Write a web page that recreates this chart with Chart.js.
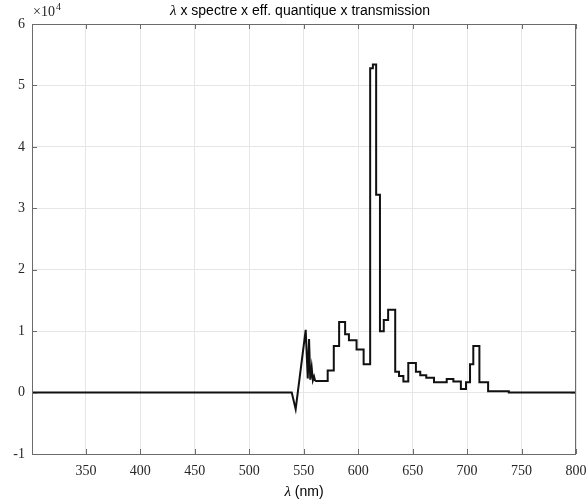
<!DOCTYPE html>
<html>
<head>
<meta charset="utf-8">
<script src="https://cdn.jsdelivr.net/npm/chart.js@4/dist/chart.umd.min.js"></script>
<style>
  html, body { margin: 0; padding: 0; background: #fff; }
  #wrap { width: 586px; height: 504px; }
</style>
</head>
<body>
<div id="wrap"><canvas id="c" width="586" height="504"></canvas></div>
<script>
// ---- data (wavelength in nm, signal in counts) ----
const wlRise  = [300, 400, 539, 542.6, 551.8, 553.7, 554.9, 556.0, 557.3, 558.4, 559.5, 560.5];
const valRise = [0, 0, 0, -2700, 10200, 2300, 8700, 2100, 4100, 2000, 2600, 1900];

const wlStep  = [560.5, 572, 577.6, 582.5, 588, 591.5, 598.5, 605, 611, 613.5, 616.5, 620, 623.5, 627.5, 634, 637.5, 641.5, 646, 653, 657, 662.5, 669.6, 681.3, 687.4, 694.3, 699, 702.7, 705.7, 711.3, 719.3, 738.3, 800];
const valStep = [1900, 3600, 7600, 11500, 9500, 8500, 7000, 4600, 52800, 53400, 32200, 10000, 11800, 13500, 3400, 2700, 1800, 4800, 3400, 2800, 2400, 1700, 2200, 1800, 600, 1700, 4600, 7600, 1700, 200, 0, 0];

const xTickValues = [350, 400, 450, 500, 550, 600, 650, 700, 750, 800];
const yTickValues = [-10000, 0, 10000, 20000, 30000, 40000, 50000, 60000];
const titleMain = ' x spectre x eff. quantique x transmission';
const xTitleRest = ' (nm)';

const toPts = (xs, ys) => xs.map((x, i) => ({x: x, y: ys[i]}));

const frameColor = '#6b6b6b';
const gridColor = '#e6e6e6';
const textColor = '#262626';

const decorPlugin = {
  id: 'decor',
  afterDraw(chart) {
    const {ctx, chartArea: a, scales} = chart;
    const xs = scales.x, ys = scales.y;
    ctx.save();
    // frame
    ctx.strokeStyle = frameColor;
    ctx.lineWidth = 1;
    ctx.strokeRect(Math.round(a.left) + 0.5, Math.round(a.top) + 0.5,
                   Math.round(a.right - a.left) - 1, Math.round(a.bottom - a.top));
    // inward ticks
    const tl = 5;
    ctx.beginPath();
    xTickValues.forEach(v => {
      const px = Math.round(xs.getPixelForValue(v)) + 0.5;
      ctx.moveTo(px, a.bottom); ctx.lineTo(px, a.bottom - tl);
      ctx.moveTo(px, a.top); ctx.lineTo(px, a.top + tl);
    });
    yTickValues.forEach(v => {
      const py = Math.round(ys.getPixelForValue(v)) + 0.5;
      ctx.moveTo(a.left, py); ctx.lineTo(a.left + tl, py);
      ctx.moveTo(a.right, py); ctx.lineTo(a.right - tl, py);
    });
    ctx.stroke();

    // exponent label
    ctx.fillStyle = textColor;
    ctx.textBaseline = 'alphabetic';
    ctx.textAlign = 'left';
    ctx.font = '14px "Liberation Serif"';
    ctx.fillText('\u00d710', a.left + 1, 16);
    const w10 = ctx.measureText('\u00d710').width;
    ctx.font = '10px "Liberation Serif"';
    ctx.fillText('4', a.left + 1 + w10 + 1, 10);

    // title with italic lambda
    const cx = (a.left + a.right) / 2 - 4;
    ctx.fillStyle = '#000';
    ctx.font = 'italic 15px "Liberation Serif"';
    const wl = ctx.measureText('\u03bb').width;
    ctx.font = '14px "Liberation Sans"';
    const wr = ctx.measureText(titleMain).width;
    let x0 = cx - (wl + wr) / 2;
    ctx.textBaseline = 'middle';
    ctx.font = 'italic 15px "Liberation Serif"';
    ctx.fillText('\u03bb', x0, 11);
    ctx.font = '14px "Liberation Sans"';
    ctx.fillText(titleMain, x0 + wl, 11);

    // x axis title
    const cx2 = (a.left + a.right) / 2;
    ctx.font = 'italic 15px "Liberation Serif"';
    const wl2 = ctx.measureText('\u03bb').width;
    ctx.font = '14px "Liberation Sans"';
    const wr2 = ctx.measureText(xTitleRest).width;
    x0 = cx2 - (wl2 + wr2) / 2;
    ctx.font = 'italic 15px "Liberation Serif"';
    ctx.fillText('\u03bb', x0, 492);
    ctx.font = '14px "Liberation Sans"';
    ctx.fillText(xTitleRest, x0 + wl2, 492);
    ctx.restore();
  }
};

new Chart(document.getElementById('c'), {
  type: 'line',
  data: {
    datasets: [
      {
        data: toPts(wlRise, valRise),
        borderColor: '#111111',
        borderWidth: 2,
        pointRadius: 0,
        tension: 0,
        fill: false
      },
      {
        data: toPts(wlStep, valStep),
        borderColor: '#111111',
        borderWidth: 2,
        pointRadius: 0,
        stepped: 'before',
        fill: false
      }
    ]
  },
  options: {
    responsive: false,
    animation: false,
    devicePixelRatio: 1,
    layout: { padding: { top: 24, right: 10, left: 0, bottom: 0 } },
    plugins: { legend: { display: false }, tooltip: { enabled: false }, title: { display: false } },
    scales: {
      x: {
        type: 'linear',
        min: 300.5,
        max: 800,
        afterBuildTicks: s => { s.ticks = xTickValues.map(v => ({value: v})); },
        afterFit: s => { s.height = 50; s.paddingLeft = 0; s.paddingRight = 0; },
        grid: { color: gridColor, drawTicks: false, lineWidth: 1 },
        border: { display: false },
        ticks: {
          padding: 9,
          color: textColor,
          maxRotation: 0,
          autoSkip: false,
          font: { family: '"Liberation Serif"', size: 14 },
          callback: v => String(v)
        }
      },
      y: {
        type: 'linear',
        min: -10000,
        max: 60000,
        afterBuildTicks: s => { s.ticks = yTickValues.map(v => ({value: v})); },
        afterFit: s => { s.width = 32; s.paddingTop = 0; s.paddingBottom = 0; },
        grid: { color: gridColor, drawTicks: false, lineWidth: 1 },
        border: { display: false },
        ticks: {
          padding: 7,
          color: textColor,
          autoSkip: false,
          font: { family: '"Liberation Serif"', size: 14 },
          callback: v => String(v / 10000)
        }
      }
    }
  },
  plugins: [decorPlugin]
});
</script>
</body>
</html>
